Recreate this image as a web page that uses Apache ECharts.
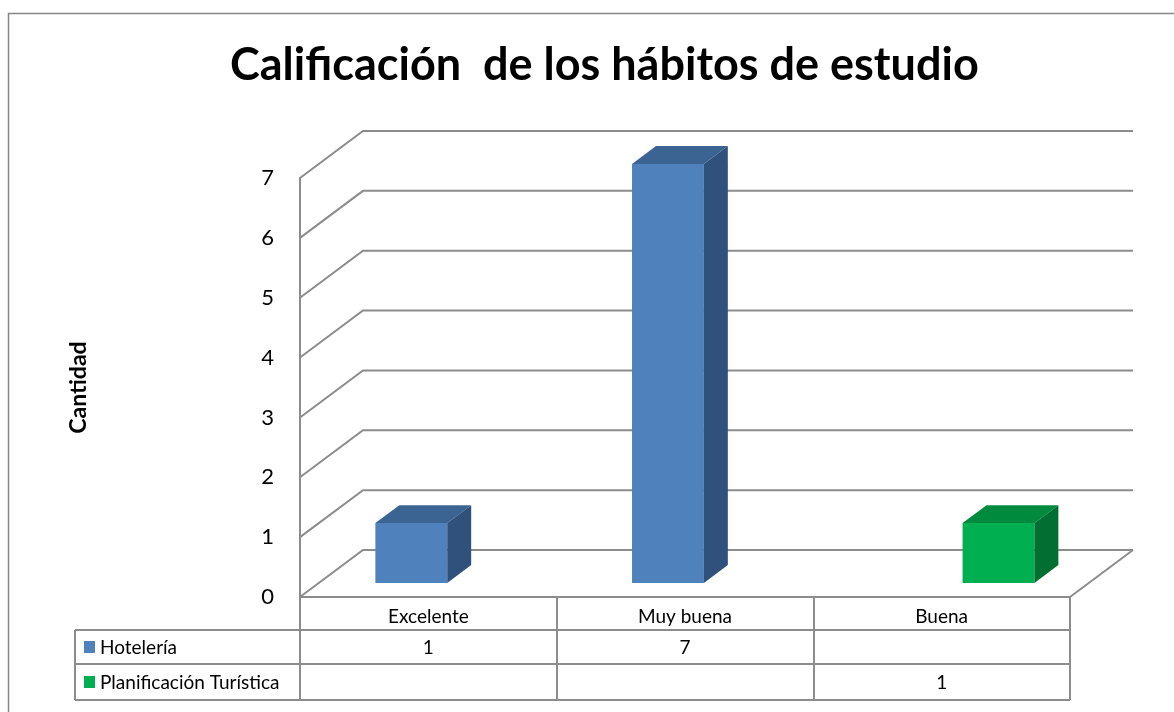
<!DOCTYPE html>
<html>
<head>
<meta charset="utf-8">
<script src="https://cdn.jsdelivr.net/npm/echarts@6/dist/echarts.min.js"></script>
<style>
html, body { margin: 0; padding: 0; background: #fff; }
#chart { width: 1174px; height: 712px; }
</style>
</head>
<body>
<div id="chart"></div>
<script>
var categories = ['Excelente', 'Muy buena', 'Buena'];
var seriesNames = ['Hotelería', 'Planificación Turística'];
var hoteleria = [1, 7, null];
var planificacion = [null, null, 1];
var yTicks = [0, 1, 2, 3, 4, 5, 6, 7];

var FONT = 'Lato, "Open Sans", sans-serif';
var DX = 63, DY = -47;      // depth of the 3d box
var F0 = 0.30, F1 = 0.68;   // where the bars sit in the depth
var BAR = 0.28;             // bar width, share of a category
var LINE = '#8c8c8c';
var faces = [
    ['#4f81bd', '#3c6493', '#30517b'],   // front, top, side
    ['#00b050', '#008a3e', '#006f31']
];
var allValues = [hoteleria, planificacion];

var chart = echarts.init(document.getElementById('chart'));

// back wall, left wall and floor lines + data table
function frameItem(params, api) {
    var cs = params.coordSys;
    var x0 = cs.x, x1 = cs.x + cs.width, yb = cs.y + cs.height;
    var kids = [];
    var st = { stroke: LINE, lineWidth: 2, fill: null };
    yTicks.forEach(function (v) {
        var y = api.coord([0, v])[1];
        kids.push({ type: 'polyline', shape: { points: [[x0, y], [x0 + DX, y + DY], [x1 + DX, y + DY]] }, style: st });
        if (v === 0) {
            kids.push({ type: 'line', shape: { x1: x1, y1: y, x2: x1 + DX, y2: y + DY }, style: st });
        }
    });
    // table
    var tl = 75;
    var rows = [yb + 33, yb + 67, yb + 103];
    rows.forEach(function (y) {
        kids.push({ type: 'line', shape: { x1: tl, y1: y, x2: x1, y2: y }, style: st });
    });
    kids.push({ type: 'line', shape: { x1: tl, y1: rows[0], x2: tl, y2: rows[2] }, style: st });
    seriesNames.forEach(function (name, s) {
        var yc = (rows[s] + rows[s + 1]) / 2;
        kids.push({ type: 'rect', shape: { x: tl + 9, y: yc - 6, width: 11, height: 12 }, style: { fill: faces[s][0] } });
        kids.push({ type: 'text', style: { text: name, x: tl + 25, y: yc + 1, verticalAlign: 'middle', font: '19px ' + FONT, fill: '#000' } });
        allValues[s].forEach(function (val, i) {
            if (val == null) return;
            kids.push({ type: 'text', style: { text: String(val), x: api.coord([i, 0])[0], y: yc + 1, align: 'center', verticalAlign: 'middle', font: '19px ' + FONT, fill: '#000' } });
        });
    });
    return { type: 'group', children: kids };
}

function barItem(s) {
    return function (params, api) {
        var i = api.value(0), v = api.value(1);
        var cw = api.size([1, 0])[0];
        var c = api.coord([i, 0]), t = api.coord([i, v]);
        var w = cw * BAR;
        var xl = c[0] - w + s * (w + 2), xr = xl + w;
        var ax = DX * F0, ay = DY * F0, bx = DX * F1, by = DY * F1;
        var yb = c[1], yt = t[1];
        return {
            type: 'group',
            children: [
                { type: 'polygon', shape: { points: [[xl + ax, yt + ay], [xr + ax, yt + ay], [xr + ax, yb + ay], [xl + ax, yb + ay]] }, style: { fill: faces[s][0] } },
                { type: 'polygon', shape: { points: [[xl + ax, yt + ay], [xr + ax, yt + ay], [xr + bx, yt + by], [xl + bx, yt + by]] }, style: { fill: faces[s][1] } },
                { type: 'polygon', shape: { points: [[xr + ax, yt + ay], [xr + bx, yt + by], [xr + bx, yb + by], [xr + ax, yb + ay]] }, style: { fill: faces[s][2] } }
            ]
        };
    };
}

function barData(arr) {
    var out = [];
    arr.forEach(function (v, i) { if (v != null) out.push([i, v]); });
    return out;
}

var option = {
    animation: false,
    title: {
        text: 'Calificación  de los hábitos de estudio',
        left: 225,
        top: 38,
        textStyle: { fontFamily: FONT, fontWeight: 'bold', fontSize: 45, color: '#000' }
    },
    grid: { left: 300, right: 104, top: 178, bottom: 115 },
    xAxis: {
        type: 'category',
        data: categories,
        boundaryGap: true,
        axisLine: { lineStyle: { color: LINE, width: 2 } },
        axisTick: { show: true, interval: 0, length: 103, lineStyle: { color: LINE, width: 2 } },
        axisLabel: { interval: 0, margin: 10, fontFamily: FONT, fontSize: 19, color: '#000' },
        splitLine: { show: false }
    },
    yAxis: {
        type: 'value',
        min: 0,
        max: 7,
        interval: 1,
        name: 'Cantidad',
        nameLocation: 'middle',
        nameGap: 210,
        nameTextStyle: { fontFamily: FONT, fontWeight: 'bold', fontSize: 23, color: '#000' },
        axisLine: { show: true, lineStyle: { color: LINE, width: 2 } },
        axisTick: { show: false },
        axisLabel: { margin: 26, fontFamily: FONT, fontSize: 22, color: '#000' },
        splitLine: { show: false }
    },
    graphic: [{
        type: 'rect',
        shape: { x: 8.5, y: 13.5, width: 1200, height: 720 },
        style: { fill: null, stroke: '#878787', lineWidth: 1.5 },
        silent: true
    }],
    series: [
        { type: 'custom', name: 'frame', renderItem: frameItem, data: [[0, 0]], clip: false, z: 1, silent: true },
        { type: 'custom', name: seriesNames[0], renderItem: barItem(0), data: barData(hoteleria), clip: false, z: 3 },
        { type: 'custom', name: seriesNames[1], renderItem: barItem(1), data: barData(planificacion), clip: false, z: 3 }
    ]
};
chart.setOption(option);
</script>
</body>
</html>
